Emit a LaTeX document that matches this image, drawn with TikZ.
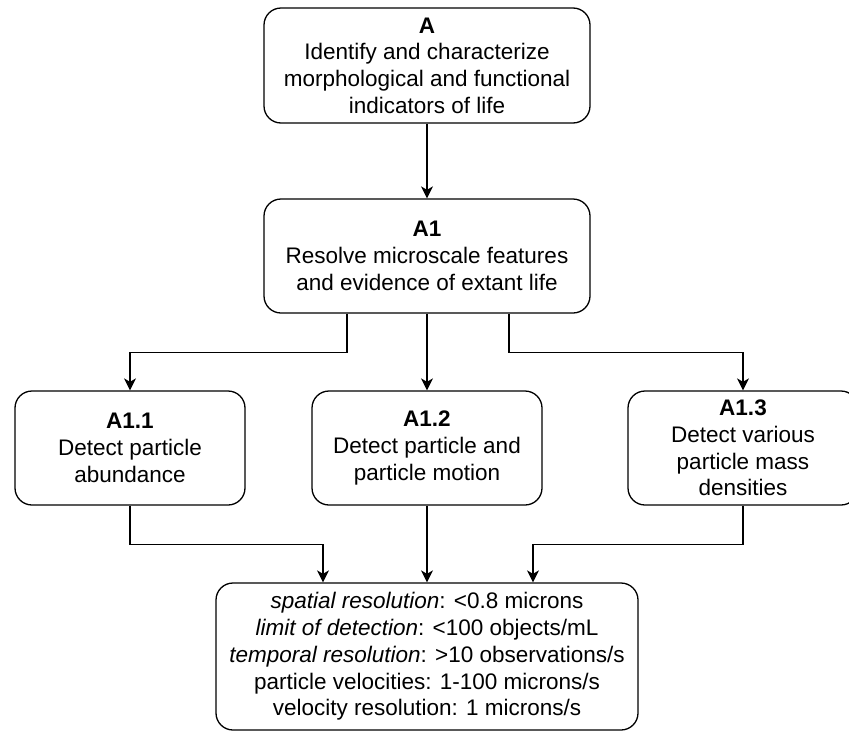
\documentclass[tikz,border=0pt]{standalone}
\usepackage{fontspec}
\setmainfont{Liberation Sans}
\usetikzlibrary{arrows.meta,calc}
\tikzset{
  box/.style={draw=black, line width=1.3pt, rounded corners=17pt, align=center,
    inner sep=0pt, font=\fontsize{22.5}{26.7}\selectfont},
  arr/.style={draw=black, line width=1.3pt, -{Stealth[length=12pt,width=12pt,inset=3.5pt]}}
}
\begin{document}
\begin{tikzpicture}[x=1pt,y=-1pt]
\useasboundingbox (0,0) rectangle (849,734);
\node[box, minimum width=326pt, minimum height=115pt] (A) at (427,65.5)
  {{\bfseries A}\\Identify and characterize\\morphological and functional\\indicators of life};
\node[box, minimum width=326pt, minimum height=114pt] (A1) at (427,256)
  {{\bfseries A1}\\Resolve microscale features\\and evidence of extant life};
\node[box, minimum width=230pt, minimum height=114pt] (A11) at (130,448)
  {{\bfseries A1.1}\\Detect particle\\abundance};
\node[box, minimum width=230pt, minimum height=114pt] (A12) at (427,448)
  {{\bfseries A1.2}\\Detect particle and\\particle motion};
\node[box, minimum width=230pt, minimum height=114pt] (A13) at (743,448)
  {{\bfseries A1.3}\\Detect various\\particle mass\\densities};
\node[box, minimum width=422pt, minimum height=147pt] (B) at (427,656.5)
  {\textit{spatial resolution}: <0.8 microns\\
   \textit{limit of detection}: <100 objects/mL\\
   \textit{temporal resolution}: >10 observations/s\\
   particle velocities: 1-100 microns/s\\
   velocity resolution: 1 microns/s};
\draw[arr] (A) -- (A1);
\draw[arr] ([xshift=-80pt]A1.south) -- ++(0,39) -| (A11.north);
\draw[arr] (A1) -- (A12);
\draw[arr] ([xshift=82pt]A1.south) -- ++(0,39) -| (A13.north);
\draw[arr] (A11.south) -- ++(0,39) -| ([xshift=-104pt]B.north);
\draw[arr] (A12) -- (B);
\draw[arr] (A13.south) -- ++(0,39) -| ([xshift=106pt]B.north);
\end{tikzpicture}
\end{document}
